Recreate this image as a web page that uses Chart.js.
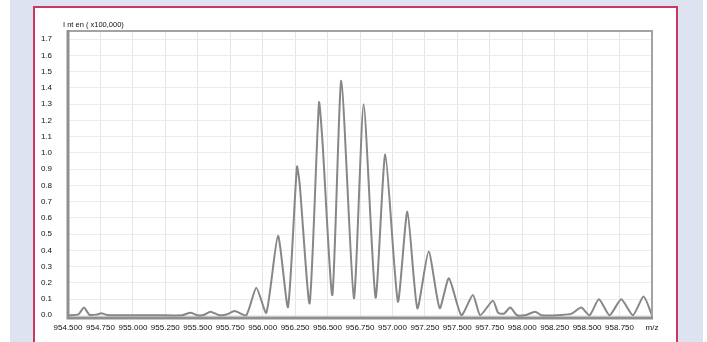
<!DOCTYPE html>
<html>
<head>
<meta charset="utf-8">
<script src="https://cdn.jsdelivr.net/npm/chart.js@4.4.1/dist/chart.umd.min.js"></script>
<style>
  html, body { margin: 0; padding: 0; background: #ffffff; }
  #stage { position: relative; width: 707px; height: 342px; overflow: hidden; }
  #band { position: absolute; left: 10px; top: 0; width: 693px; height: 342px; background: #dde3f1; }
  #panel { position: absolute; left: 33px; top: 6px; width: 645px; height: 340px; box-sizing: border-box;
           background: #ffffff; border: 2px solid #c8385f; border-bottom: none; }
  #c { position: absolute; left: 0; top: 0; }
</style>
</head>
<body>
<div id="stage">
  <div id="band"></div>
  <div id="panel"></div>
  <canvas id="c" width="707" height="342"></canvas>
</div>
<script>
// Mass spectrum profile: m/z positions and intensity (x100,000)
const mz = [
  954.500, 954.580, 954.623, 954.665, 954.720, 954.757, 954.800, 954.900, 955.000, 955.200,
  955.380, 955.443, 955.500, 955.550, 955.597, 955.660, 955.720, 955.784, 955.874, 955.951,
  956.028, 956.118, 956.195, 956.264, 956.285, 956.362, 956.434, 956.460, 956.537, 956.606,
  956.703, 956.778, 956.870, 956.945, 957.042, 957.115, 957.192, 957.279, 957.364, 957.435,
  957.531, 957.620, 957.676, 957.774, 957.815, 957.860, 957.908, 957.960, 958.030, 958.100,
  958.150, 958.300, 958.380, 958.455, 958.519, 958.591, 958.673, 958.763, 958.853, 958.935,
  959.000
];
const intensity = [
  0.000, 0.005, 0.047, 0.003, 0.004, 0.012, 0.002, 0.000, 0.000, 0.000,
  0.000, 0.016, 0.000, 0.003, 0.022, 0.002, 0.004, 0.026, 0.000, 0.170,
  0.015, 0.490, 0.050, 0.915, 0.810, 0.074, 1.310, 1.080, 0.125, 1.445,
  0.105, 1.300, 0.108, 0.990, 0.084, 0.638, 0.043, 0.392, 0.043, 0.228,
  0.000, 0.125, 0.000, 0.090, 0.014, 0.010, 0.047, 0.000, 0.002, 0.022,
  0.000, 0.002, 0.010, 0.047, 0.000, 0.098, 0.000, 0.098, 0.000, 0.115,
  0.000
];
const yTickValues = [0.0, 0.1, 0.2, 0.3, 0.4, 0.5, 0.6, 0.7, 0.8, 0.9, 1.0, 1.1, 1.2, 1.3, 1.4, 1.5, 1.6, 1.7];
const xTickValues = [954.5, 954.75, 955.0, 955.25, 955.5, 955.75, 956.0, 956.25, 956.5, 956.75,
                     957.0, 957.25, 957.5, 957.75, 958.0, 958.25, 958.5, 958.75, 959.0];
const xUnitLabel = 'm/z';
const yAxisTitle = 'I nt en ( x100,000)';

const points = mz.map((x, i) => ({ x: x, y: intensity[i] }));

const FONT = { family: '"Liberation Sans", Arial, sans-serif', size: 8 };

// Frame around the plotting area plus the intensity caption above the y axis
const framePlugin = {
  id: 'frame',
  afterDraw(chart) {
    const { ctx, chartArea: a } = chart;
    ctx.save();
    ctx.strokeStyle = '#a3a3a3';
    ctx.lineWidth = 2;
    ctx.strokeRect(a.left, a.top, a.right - a.left, a.bottom - a.top);
    ctx.strokeStyle = '#8f8f8f';
    ctx.lineWidth = 3;
    ctx.beginPath();
    ctx.moveTo(a.left, a.top - 1);
    ctx.lineTo(a.left, a.bottom);
    ctx.lineTo(a.right + 1, a.bottom);
    ctx.stroke();
    ctx.fillStyle = '#111111';
    ctx.font = '7.5px "Liberation Sans", Arial, sans-serif';
    ctx.textAlign = 'left';
    ctx.textBaseline = 'middle';
    ctx.fillText(yAxisTitle, a.left - 5, a.top - 6);
    ctx.restore();
  }
};

new Chart(document.getElementById('c'), {
  type: 'line',
  data: {
    datasets: [{
      data: points,
      borderColor: '#878787',
      borderWidth: 2,
      pointRadius: 0,
      fill: false,
      tension: 0.2
    }]
  },
  options: {
    responsive: false,
    animation: false,
    events: [],
    layout: { padding: { top: 31, right: 55, bottom: 0, left: 0 } },
    plugins: { legend: { display: false }, tooltip: { enabled: false }, title: { display: false } },
    scales: {
      x: {
        type: 'linear',
        min: 954.5,
        max: 959.0,
        afterFit(s) { s.height = 24; },
        afterBuildTicks(s) { s.ticks = xTickValues.map(v => ({ value: v })); },
        border: { display: false },
        grid: { color: '#e6e6e6', lineWidth: 1, drawTicks: false },
        ticks: {
          padding: 5,
          autoSkip: false,
          maxRotation: 0,
          color: '#111111',
          font: FONT,
          callback(v) { return Math.abs(v - 959.0) < 1e-6 ? xUnitLabel : Number(v).toFixed(3); }
        }
      },
      y: {
        type: 'linear',
        min: -0.017,
        max: 1.751,
        afterFit(s) { s.width = 68; },
        afterBuildTicks(s) { s.ticks = yTickValues.map(v => ({ value: v })); },
        border: { display: false },
        grid: { color: '#ececec', lineWidth: 1, drawTicks: false },
        ticks: {
          padding: 16,
          color: '#111111',
          font: FONT,
          callback(v) { return Number(v).toFixed(1); }
        }
      }
    }
  },
  plugins: [framePlugin]
});
</script>
</body>
</html>
